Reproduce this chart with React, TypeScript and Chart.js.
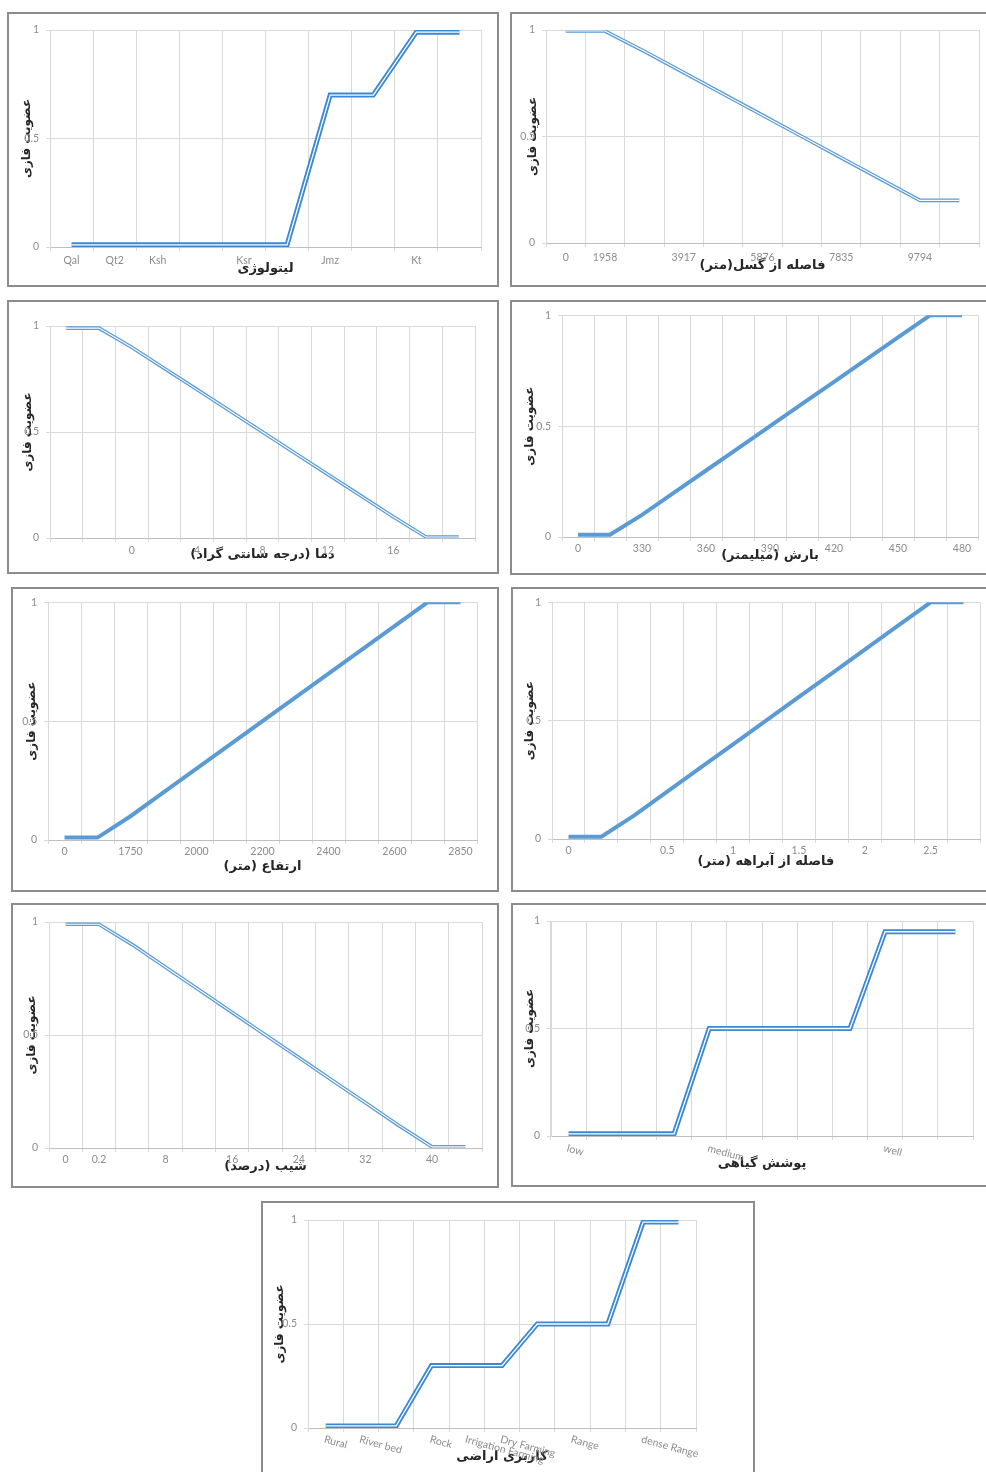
import React, { useEffect, useRef } from "react";
import { Chart, registerables } from "chart.js";
Chart.register(...registerables);

// ---------------- data ----------------
const yAxisTitle = "عضویت فازی";

const lithoLabels = ["Qal", "Qt2", "Ksh", "", "Ksr", "", "Jmz", "", "Kt", ""];
const lithoValues = [0.01, 0.01, 0.01, 0.01, 0.01, 0.01, 0.7, 0.7, 0.99, 0.99];
const lithoTitle = "لیتولوژی";

const faultLabels = ["0", "1958", "", "3917", "", "5876", "", "7835", "", "9794", ""];
const faultValues = [0.995, 0.995, 0.9, 0.8, 0.7, 0.6, 0.5, 0.4, 0.3, 0.2, 0.2];
const faultTitle = "فاصله از گسل(متر)";

const tempLabels = ["", "", "0", "", "4", "", "8", "", "12", "", "16", "", ""];
const tempValues = [0.99, 0.99, 0.9, 0.8, 0.7, 0.6, 0.5, 0.4, 0.3, 0.2, 0.1, 0.005, 0.005];
const tempTitle = "دما (درجه سانتی گراد)";

const rainLabels = ["0", "", "330", "", "360", "", "390", "", "420", "", "450", "", "480"];
const rainValues = [0.01, 0.01, 0.1, 0.2, 0.3, 0.4, 0.5, 0.6, 0.7, 0.8, 0.9, 1, 1];
const rainTitle = "بارش (میلیمتر)";

const elevLabels = ["0", "", "1750", "", "2000", "", "2200", "", "2400", "", "2600", "", "2850"];
const elevValues = [0.01, 0.01, 0.1, 0.2, 0.3, 0.4, 0.5, 0.6, 0.7, 0.8, 0.9, 1, 1];
const elevTitle = "ارتفاع (متر)";

const streamLabels = ["0", "", "", "0.5", "", "1", "", "1.5", "", "2", "", "2.5", ""];
const streamValues = [0.01, 0.01, 0.1, 0.2, 0.3, 0.4, 0.5, 0.6, 0.7, 0.8, 0.9, 1, 1];
const streamTitle = "فاصله از آبراهه (متر)";

const slopeLabels = ["0", "0.2", "", "8", "", "16", "", "24", "", "32", "", "40", ""];
const slopeValues = [0.99, 0.99, 0.9, 0.8, 0.7, 0.6, 0.5, 0.4, 0.3, 0.2, 0.1, 0.005, 0.005];
const slopeTitle = "شیب (درصد)";

const vegLabels = ["low", "", "", "", "medium", "", "", "", "", "well", "", ""];
const vegValues = [0.01, 0.01, 0.01, 0.01, 0.5, 0.5, 0.5, 0.5, 0.5, 0.95, 0.95, 0.95];
const vegTitle = "پوشش گیاهی";

const landLabels = ["Rural", "River bed", "", "Rock", "Irrigation Farming", "Dry Farming", "", "Range", "", "dense Range", ""];
const landValues = [0.01, 0.01, 0.01, 0.3, 0.3, 0.3, 0.5, 0.5, 0.5, 0.99, 0.99];
const landTitle = "کاربری اراضی";

// ---------------- layout / style ----------------
type Spec = {
  labels: string[];
  values: number[];
  title: string;
  box: [number, number, number, number];
  area: [number, number, number, number];
  yTitleX: number;
  xTickY: number;
  xTitleY: number;
  style: "double" | "thin" | "solid";
  rotate?: boolean;
};

const specs: Spec[] = [
  { labels: lithoLabels, values: lithoValues, title: lithoTitle, box: [7, 12, 492, 275], area: [50, 30, 481, 247], yTitleX: 27, xTickY: 261, xTitleY: 269, style: "double" },
  { labels: faultLabels, values: faultValues, title: faultTitle, box: [510, 12, 490, 275], area: [546, 30, 979, 243], yTitleX: 533, xTickY: 258, xTitleY: 266, style: "thin" },
  { labels: tempLabels, values: tempValues, title: tempTitle, box: [7, 300, 492, 274], area: [50, 326, 475, 538], yTitleX: 28, xTickY: 551, xTitleY: 555, style: "thin" },
  { labels: rainLabels, values: rainValues, title: rainTitle, box: [510, 300, 490, 275], area: [562, 315, 978, 537], yTitleX: 530, xTickY: 549, xTitleY: 556, style: "solid" },
  { labels: elevLabels, values: elevValues, title: elevTitle, box: [11, 587, 488, 305], area: [48, 602, 477, 840], yTitleX: 32, xTickY: 852, xTitleY: 867, style: "solid" },
  { labels: streamLabels, values: streamValues, title: streamTitle, box: [511, 587, 490, 305], area: [552, 602, 980, 839], yTitleX: 530, xTickY: 851, xTitleY: 862, style: "solid" },
  { labels: slopeLabels, values: slopeValues, title: slopeTitle, box: [11, 903, 488, 285], area: [49, 922, 482, 1148], yTitleX: 32, xTickY: 1160, xTitleY: 1167, style: "thin" },
  { labels: vegLabels, values: vegValues, title: vegTitle, box: [511, 903, 490, 284], area: [551, 921, 973, 1136], yTitleX: 530, xTickY: 1143, xTitleY: 1164, style: "double", rotate: true },
  { labels: landLabels, values: landValues, title: landTitle, box: [261, 1201, 494, 290], area: [308, 1220, 696, 1428], yTitleX: 280, xTickY: 1434, xTitleY: 1457, style: "double", rotate: true },
];

const BORDER = 2;
const TICK_FONT = "Lato, 'DejaVu Sans', sans-serif";
const TITLE_FONT = "'DejaVu Sans', sans-serif";
const TICK_SIZE = 10.5;
const TICK_COLOR = "#8c8c8c";
const GRID_COLOR = "#d9d9d9";
const Y_TITLE_SIZE = 12;
const X_TITLE_SIZE = 13;
const TICK_LEN = 4;
const rtl = (s: string) => "\u200F" + s + "\u200F";

function ChartPanel({ spec }: { spec: Spec }) {
  const ref = useRef<HTMLCanvasElement | null>(null);
  const [bl, bt, bw, bh] = spec.box;
  const innerL = bl + BORDER;
  const innerT = bt + BORDER;
  const W = bw - 2 * BORDER;
  const H = bh - 2 * BORDER;

  useEffect(() => {
    if (!ref.current) return;
    const [al, at, ar, ab] = spec.area;
    const padTop = at - innerT;
    const padRight = innerL + W - ar;
    const yW = al - innerL;
    const xH = innerT + H - ab;
    const yLh = Y_TITLE_SIZE * 1.2;
    const xLh = X_TITLE_SIZE * 1.2;
    const yTitlePadTop = spec.yTitleX - innerL - yLh / 2;
    const xTitlePadBottom = innerT + H - spec.xTitleY - xLh / 2;
    const tickLh = TICK_SIZE * 1.2;
    const xTickPad = Math.max(0, spec.xTickY - ab - TICK_LEN - tickLh / 2);

    let color = "#3a88d6";
    let outerW = 5;
    let innerW = 1.3;
    if (spec.style === "thin") {
      color = "#5b9bd5";
      outerW = 3.6;
      innerW = 1.1;
    } else if (spec.style === "solid") {
      color = "#5b9bd5";
      outerW = 4;
      innerW = 0;
    }

    const datasets: any[] = [];
    if (innerW > 0) {
      datasets.push({
        data: spec.values,
        borderColor: "#ffffff",
        borderWidth: innerW,
        pointRadius: 0,
        tension: 0,
        fill: false,
        order: 0,
        borderJoinStyle: "miter",
        borderCapStyle: "butt",
      });
    }
    datasets.push({
      data: spec.values,
      borderColor: color,
      borderWidth: outerW,
      pointRadius: 0,
      tension: 0,
      fill: false,
      order: 1,
      borderJoinStyle: "miter",
      borderCapStyle: "butt",
    });

    const rotPlugin = {
      id: "rotLabels",
      afterDraw(chart: any) {
        if (!spec.rotate) return;
        const xs = chart.scales.x;
        const ctx = chart.ctx;
        ctx.save();
        ctx.font = `${TICK_SIZE}px ${TICK_FONT}`;
        ctx.fillStyle = TICK_COLOR;
        ctx.textAlign = "left";
        ctx.textBaseline = "top";
        spec.labels.forEach((lab, i) => {
          if (!lab) return;
          const px = xs.getPixelForTick(i);
          ctx.save();
          ctx.translate(px, spec.xTickY - innerT);
          ctx.rotate((15 * Math.PI) / 180);
          ctx.fillText(lab, 0, 0);
          ctx.restore();
        });
        ctx.restore();
      },
    };

    const chart = new Chart(ref.current, {
      type: "line",
      data: { labels: spec.labels, datasets },
      options: {
        animation: false,
        responsive: false,
        devicePixelRatio: 1,
        events: [],
        layout: { padding: { left: 0, top: padTop, right: padRight, bottom: 0 } },
        plugins: { legend: { display: false }, tooltip: { enabled: false } },
        scales: {
          x: {
            type: "category",
            offset: true,
            grid: { offset: true, color: GRID_COLOR, tickLength: TICK_LEN, drawTicks: true },
            border: { color: "#bfbfbf" },
            ticks: {
              display: !spec.rotate,
              autoSkip: false,
              maxRotation: 0,
              minRotation: 0,
              color: TICK_COLOR,
              padding: xTickPad,
              font: { family: TICK_FONT, size: TICK_SIZE },
            },
            title: {
              display: true,
              text: rtl(spec.title),
              color: "#262626",
              font: { family: TITLE_FONT, size: X_TITLE_SIZE, weight: "bold" },
              padding: { top: 0, bottom: xTitlePadBottom },
            },
            afterFit: (s: any) => {
              s.height = xH;
            },
          } as any,
          y: {
            min: 0,
            max: 1,
            ticks: {
              stepSize: 0.5,
              color: TICK_COLOR,
              padding: 7,
              font: { family: TICK_FONT, size: TICK_SIZE },
              callback: (v: any) => String(Number(v)),
            },
            grid: { color: GRID_COLOR, tickLength: TICK_LEN },
            border: { color: GRID_COLOR },
            title: {
              display: true,
              text: rtl(yAxisTitle),
              color: "#262626",
              font: { family: TITLE_FONT, size: Y_TITLE_SIZE, weight: "bold" },
              padding: { top: yTitlePadTop, bottom: 0 },
            },
            afterFit: (s: any) => {
              s.width = yW;
            },
          } as any,
        },
      },
      plugins: [rotPlugin],
    });
    return () => chart.destroy();
  }, []);

  return (
    <div
      style={{
        position: "absolute",
        left: bl,
        top: bt,
        width: bw,
        height: bh,
        border: `${BORDER}px solid #8c8c8c`,
        boxSizing: "border-box",
        background: "#ffffff",
      }}
    >
      <canvas ref={ref} width={W} height={H} style={{ display: "block", width: W, height: H }} />
    </div>
  );
}

export default function App() {
  return (
    <div
      style={{
        position: "absolute",
        left: 0,
        top: 0,
        width: 986,
        height: 1472,
        overflow: "hidden",
        background: "#ffffff",
      }}
    >
      {specs.map((s, i) => (
        <ChartPanel key={i} spec={s} />
      ))}
    </div>
  );
}
